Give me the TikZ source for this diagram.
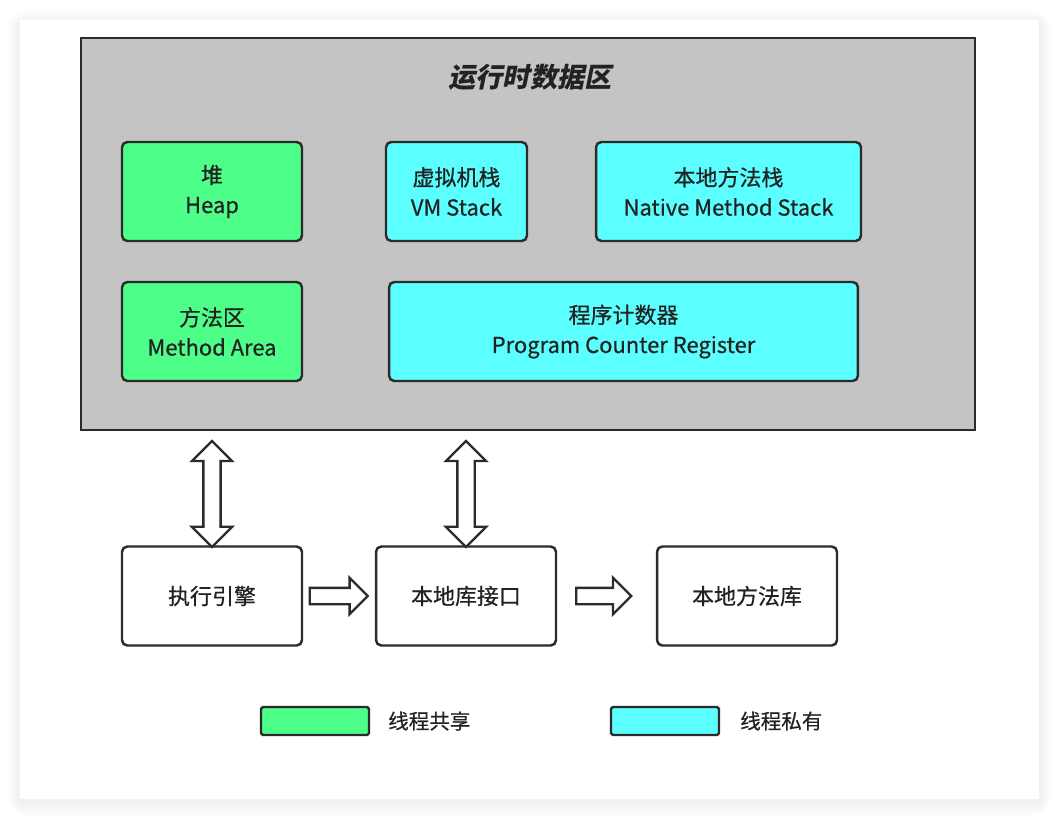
\documentclass[tikz,border=0pt]{standalone}
\usepackage{fontspec}
\setmainfont[FakeBold=0.6]{Noto Sans CJK SC}
\newfontfamily\titlefont[FakeSlant=0.2]{Noto Sans CJK SC}
\usepackage{xcolor}
\usetikzlibrary{shapes.arrows,calc}

\definecolor{sharedgreen}{HTML}{4DFE88}
\definecolor{privatecyan}{HTML}{5CFFFF}
\definecolor{areagray}{HTML}{C4C4C4}
\definecolor{edge}{HTML}{2B2B2B}
\definecolor{ink}{HTML}{222222}

\begin{document}
\begin{tikzpicture}[x=0.02cm, y=-0.02cm,
	area/.style={
		draw=edge, line width=1.3pt, fill=areagray,
		minimum width=17.88cm, minimum height=7.84cm, inner sep=0pt
	},
	unit/.style={
		draw=edge, line width=1.4pt, rounded corners=3pt,
		minimum height=1.98cm, align=center, inner sep=2pt,
		font=\fontsize{12.5}{17}\selectfont, text=ink
	},
	sharedbox/.style={unit, fill=sharedgreen},
	privbox/.style={unit, fill=privatecyan},
	enginebox/.style={unit, fill=white, minimum width=3.6cm},
	legbox/.style={
		draw=edge, line width=1.4pt, rounded corners=1pt,
		minimum width=2.16cm, minimum height=0.56cm, inner sep=0pt
	},
	legtext/.style={anchor=west, font=\fontsize{11.7}{14}\selectfont, text=ink},
	vflow/.style={
		double arrow, draw=edge, line width=1.3pt, fill=white, rotate=90,
		inner xsep=0pt, inner ysep=0.15cm, double arrow head extend=0.23cm
	},
	hflow/.style={
		single arrow, draw=edge, line width=1.3pt, fill=white,
		inner xsep=0pt, inner ysep=0.14cm, single arrow head extend=0.2cm
	},
	]
	\useasboundingbox (0,0) rectangle (1059,819);
	% card with a soft shadow
	\foreach \s in {1,...,14}
		\fill[black, opacity=0.004, rounded corners=\s] (20-\s, 23-\s) rectangle (1039+\s, 803+\s);
	\fill[white] (20,20) rectangle (1039,799);
	
	\node[area] (rda) at (528,234) {};
	\node[font=\titlefont\bfseries\fontsize{15.5}{18}\selectfont, text=ink] (title) at (530,77) {运行时数据区};
	
	\node[sharedbox, minimum width=3.6cm]  (heap)    at (212,191.5) {堆\\Heap};
	\node[privbox,   minimum width=2.82cm] (vmstack) at (456.5,191.5) {虚拟机栈\\VM Stack};
	\node[privbox,   minimum width=5.3cm]  (nstack)  at (728.5,191.5) {本地方法栈\\Native Method Stack};
	\node[sharedbox, minimum width=3.6cm]  (marea)   at (212,331.5) {方法区\\Method Area};
	\node[privbox,   minimum width=9.38cm] (pcr)     at (623.5,331.5) {程序计数器\\Program Counter Register};
	
	\node[enginebox] (exec) at (212,596) {执行引擎};
	\node[enginebox] (nif)  at (466,596) {本地库接口};
	\node[enginebox] (nlib) at (747,596) {本地方法库};
	
	\node[vflow, minimum height=2.12cm] (execlink) at ($(rda.south -| exec)!0.55!(exec.north)$) {};
	\node[vflow, minimum height=2.12cm] (niflink)  at ($(rda.south -| nif)!0.55!(nif.north)$) {};
	\node[hflow, minimum height=1.16cm] (callnif)  at ($(exec.east)!0.44!(nif.west)$) {};
	\node[hflow, minimum height=1.1cm]  (calllib)  at ($(nif.east)!0.43!(nlib.west)$) {};
	
	% legend
	\node[legbox, fill=sharedgreen] (lgshared)  at (315,721) {};
	\node[legtext] (lgsharedtxt) at (382,721) {线程共享};
	\node[legbox, fill=privatecyan] (lgprivate) at (665,721) {};
	\node[legtext] (lgprivatetxt) at (734,721) {线程私有};
	
\end{tikzpicture}
\end{document}
